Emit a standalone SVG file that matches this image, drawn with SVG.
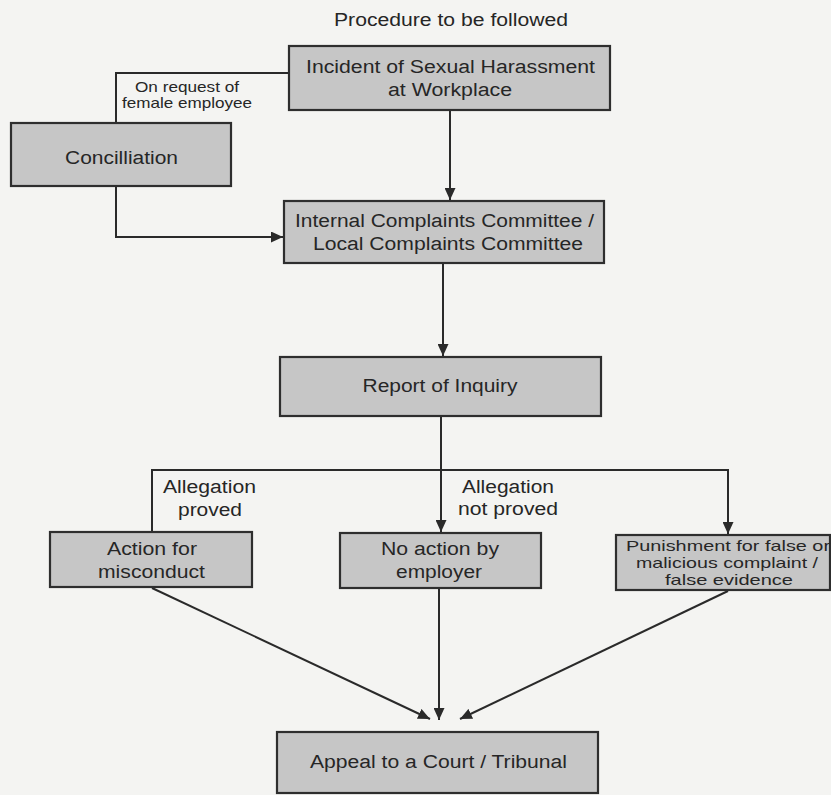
<svg xmlns="http://www.w3.org/2000/svg" width="831" height="795" viewBox="0 0 831 795">
  <style>
    .box { fill: #c6c6c6; stroke: #2e2e2e; stroke-width: 2.2; }
    .t { font-family: "Liberation Sans", Arial, sans-serif; font-size: 18px; fill: #262626; text-anchor: middle; }
    .s { font-size: 15px; }
    .xs { font-size: 14.5px; }
    .ln { fill: none; stroke: #2a2a2a; stroke-width: 2; }
  </style>
  <defs>
    <marker id="ah" viewBox="0 0 12 11" refX="12" refY="5.5" markerWidth="12" markerHeight="11" markerUnits="userSpaceOnUse" orient="auto">
      <path d="M0,0 L12,5.5 L0,11 Z" fill="#2a2a2a"/>
    </marker>
  </defs>
  <rect x="0" y="0" width="831" height="795" fill="#f4f4f2"/>

  <text id="title" class="t" x="451" y="26" textLength="234" lengthAdjust="spacingAndGlyphs">Procedure to be followed</text>

  <g id="connectors">
    <path class="ln" d="M450,111 V200" marker-end="url(#ah)"/>
    <path class="ln" d="M289,73 H116 V123"/>
    <path class="ln" d="M116,186 V237 H283" marker-end="url(#ah)"/>
    <path class="ln" d="M443,264 V356" marker-end="url(#ah)"/>
    <path class="ln" d="M441,417 V532" marker-end="url(#ah)"/>
    <path class="ln" d="M152,531 V470 H728 V534" marker-end="url(#ah)"/>
    <path class="ln" d="M152,588 L430,719" marker-end="url(#ah)"/>
    <path class="ln" d="M439,589 V720" marker-end="url(#ah)"/>
    <path class="ln" d="M728,591 L460,719" marker-end="url(#ah)"/>
  </g>

  <g id="labels">
    <text class="t xs" x="187" y="92" textLength="104" lengthAdjust="spacingAndGlyphs">On request of</text>
    <text class="t xs" x="187" y="108" textLength="130" lengthAdjust="spacingAndGlyphs">female employee</text>
    <text class="t" x="209.5" y="493" textLength="93" lengthAdjust="spacingAndGlyphs">Allegation</text>
    <text class="t" x="210" y="516" textLength="64" lengthAdjust="spacingAndGlyphs">proved</text>
    <text class="t" x="508" y="493" textLength="92" lengthAdjust="spacingAndGlyphs">Allegation</text>
    <text class="t" x="508" y="515" textLength="100" lengthAdjust="spacingAndGlyphs">not proved</text>
  </g>

  <g id="incident">
    <rect class="box" x="289" y="46" width="321" height="64"/>
    <text class="t" x="450.5" y="73" textLength="289" lengthAdjust="spacingAndGlyphs">Incident of Sexual Harassment</text>
    <text class="t" x="450" y="96" textLength="124" lengthAdjust="spacingAndGlyphs">at Workplace</text>
  </g>

  <g id="conciliation">
    <rect class="box" x="11" y="123" width="220" height="63"/>
    <text class="t" x="121.5" y="164" textLength="113" lengthAdjust="spacingAndGlyphs">Concilliation</text>
  </g>

  <g id="committee">
    <rect class="box" x="284" y="201" width="320" height="62"/>
    <text class="t" x="444.5" y="226.5" textLength="299" lengthAdjust="spacingAndGlyphs">Internal Complaints Committee /</text>
    <text class="t" x="448" y="250" textLength="270" lengthAdjust="spacingAndGlyphs">Local Complaints Committee</text>
  </g>

  <g id="report">
    <rect class="box" x="280" y="357" width="321" height="59"/>
    <text class="t" x="440" y="392" textLength="155" lengthAdjust="spacingAndGlyphs">Report of Inquiry</text>
  </g>

  <g id="action">
    <rect class="box" x="50" y="532" width="202" height="55"/>
    <text class="t" x="152" y="555" textLength="90" lengthAdjust="spacingAndGlyphs">Action for</text>
    <text class="t" x="151.5" y="578" textLength="107" lengthAdjust="spacingAndGlyphs">misconduct</text>
  </g>

  <g id="noaction">
    <rect class="box" x="340" y="533" width="201" height="55"/>
    <text class="t" x="440" y="555" textLength="118" lengthAdjust="spacingAndGlyphs">No action by</text>
    <text class="t" x="439" y="578" textLength="86" lengthAdjust="spacingAndGlyphs">employer</text>
  </g>

  <g id="punishment">
    <rect class="box" x="616" y="535" width="214" height="55"/>
    <text class="t s" x="728" y="551" textLength="204" lengthAdjust="spacingAndGlyphs">Punishment for false or</text>
    <text class="t s" x="727" y="568" textLength="182" lengthAdjust="spacingAndGlyphs">malicious complaint /</text>
    <text class="t s" x="729" y="585" textLength="128" lengthAdjust="spacingAndGlyphs">false evidence</text>
  </g>

  <g id="appeal">
    <rect class="box" x="277" y="732" width="321" height="61"/>
    <text class="t" x="438.5" y="768" textLength="257" lengthAdjust="spacingAndGlyphs">Appeal to a Court / Tribunal</text>
  </g>
</svg>
